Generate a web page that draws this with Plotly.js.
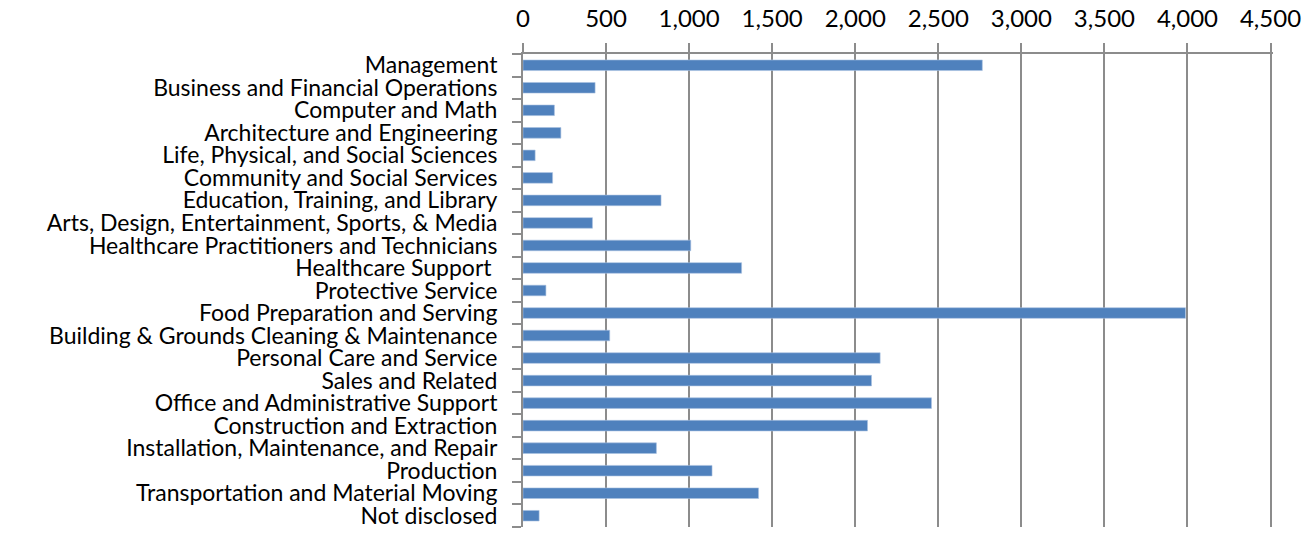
<!DOCTYPE html>
<html>
<head>
<meta charset="utf-8">
<script src="https://cdn.plot.ly/plotly-3.0.1.min.js"></script>
<style>html,body{margin:0;padding:0;background:#fff;}#chart{width:1314px;height:535px;}</style>
</head>
<body>
<div id="chart"></div>
<script>
const categories = [
  "Management",
  "Business and Financial Operations",
  "Computer and Math",
  "Architecture and Engineering",
  "Life, Physical, and Social Sciences",
  "Community and Social Services",
  "Education, Training, and Library",
  "Arts, Design, Entertainment, Sports, & Media",
  "Healthcare Practitioners and Technicians",
  "Healthcare Support ",
  "Protective Service",
  "Food Preparation and Serving",
  "Building & Grounds Cleaning & Maintenance",
  "Personal Care and Service",
  "Sales and Related",
  "Office and Administrative Support",
  "Construction and Extraction",
  "Installation, Maintenance, and Repair",
  "Production",
  "Transportation and Material Moving",
  "Not disclosed"
];
const values = [2765, 434, 189, 228, 73, 178, 831, 418, 1010, 1316, 138, 3988, 522, 2150, 2098, 2459, 2074, 803, 1138, 1418, 97];
const tickValues = [0, 500, 1000, 1500, 2000, 2500, 3000, 3500, 4000, 4500];
const tickLabels = ["0", "500", "1,000", "1,500", "2,000", "2,500", "3,000", "3,500", "4,000", "4,500"];

const trace = {
  type: "bar",
  orientation: "h",
  x: values,
  y: categories,
  marker: { color: "#4F81BD", line: { color: "#A9C1E0", width: 0.6 } },
  hoverinfo: "x+y"
};

const layout = {
  width: 1314,
  height: 535,
  margin: { l: 523, r: 41, t: 54, b: 8, pad: 0 },
  paper_bgcolor: "#fff",
  plot_bgcolor: "#fff",
  font: { family: "Lato, 'Open Sans', sans-serif", size: 24, color: "#000" },
  bargap: 0.53,
  showlegend: false,
  xaxis: {
    side: "top",
    range: [0, 4515],
    tickvals: tickValues,
    ticktext: tickLabels,
    showgrid: true,
    gridcolor: "#8C8C8C",
    gridwidth: 2,
    zeroline: false,
    showline: true,
    linecolor: "#8C8C8C",
    linewidth: 2,
    ticks: "outside",
    ticklen: 9,
    tickwidth: 2,
    tickcolor: "#8C8C8C",
    ticklabelstandoff: 6,
    tickfont: { size: 24 },
    fixedrange: true
  },
  yaxis: {
    type: "category",
    autorange: "reversed",
    tickmode: "array",
    tickvals: categories,
    ticktext: categories,
    showgrid: false,
    zeroline: false,
    showline: true,
    linecolor: "#8C8C8C",
    linewidth: 2,
    ticks: "outside",
    tickson: "boundaries",
    ticklen: 9,
    tickwidth: 2,
    tickcolor: "#8C8C8C",
    ticklabelstandoff: 19,
    tickfont: { size: 23 },
    fixedrange: true
  }
};

Plotly.newPlot("chart", [trace], layout, { displayModeBar: false, staticPlot: true });
</script>
</body>
</html>
